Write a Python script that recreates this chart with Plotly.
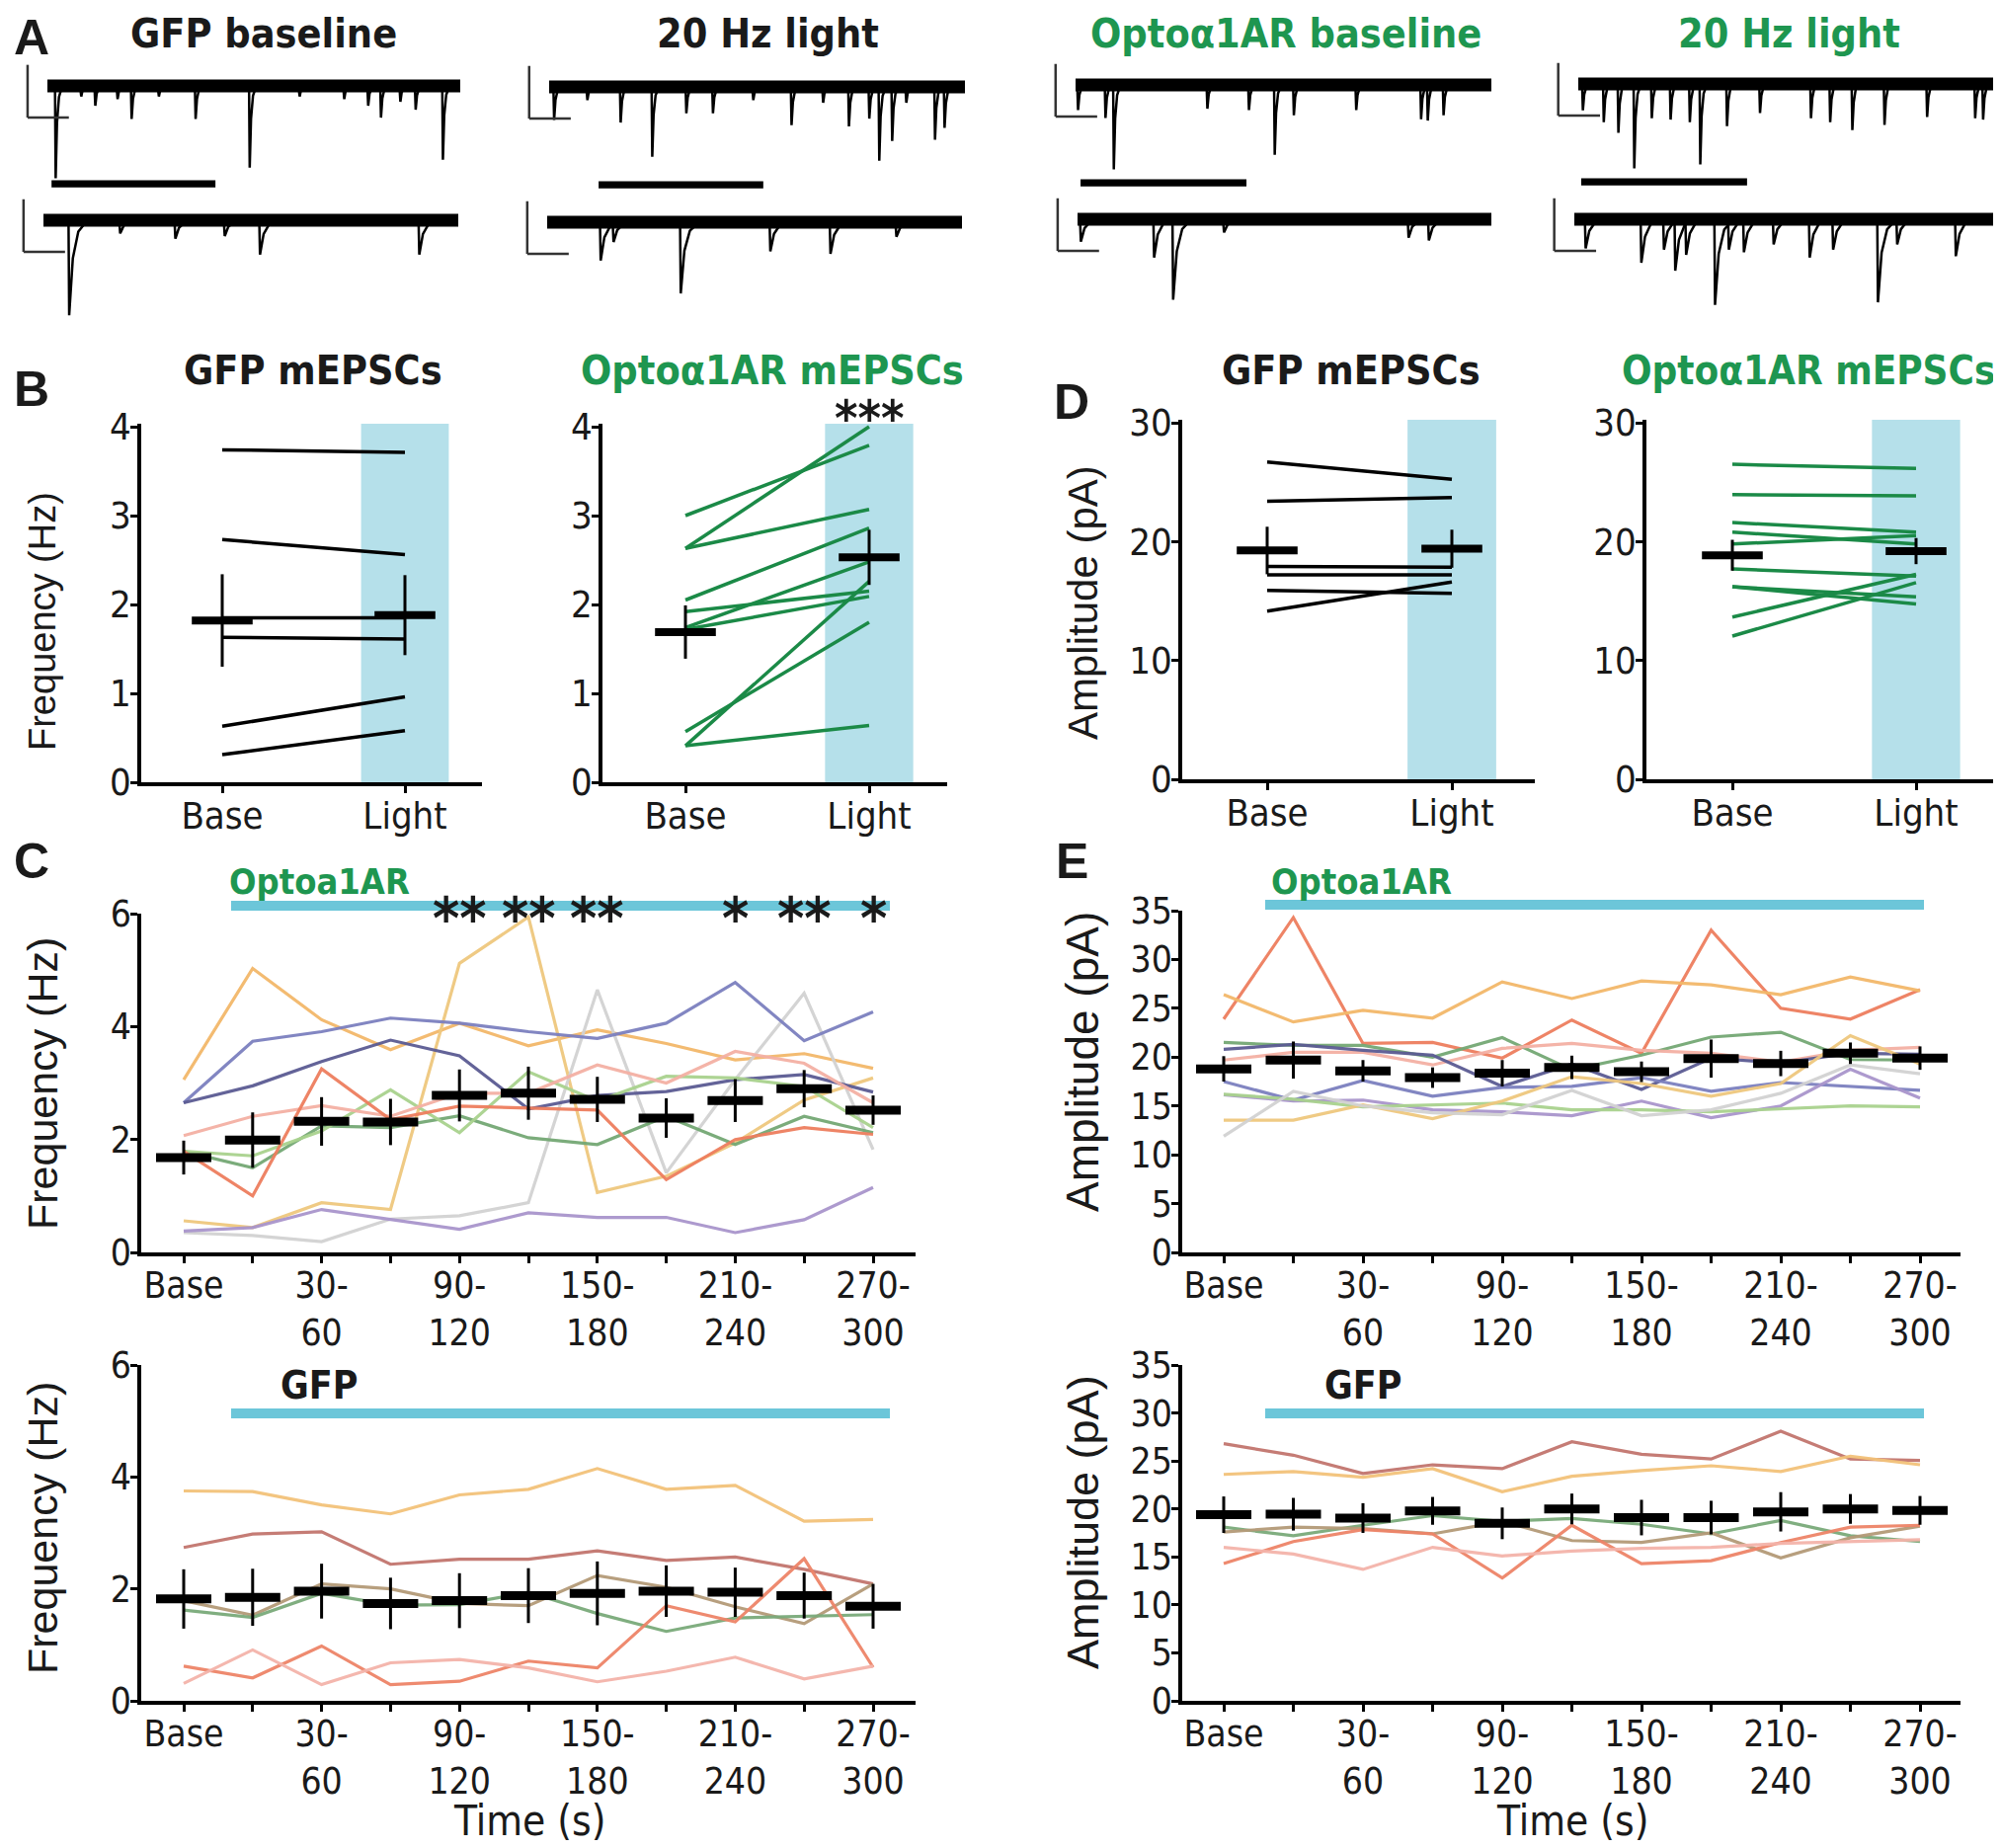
import plotly.graph_objects as go

# ======================= DATA =======================
# Panel A: mEPSC events read from the example sweeps (time in ms within a 1 s sweep, amplitude in pA)
A_GFP_BASE_TOP_T = [20, 82, 116, 170, 204, 270, 359, 490, 611, 719, 777, 808, 855, 892, 958]
A_GFP_BASE_TOP_A = [35, 4, 7.5, 5, 12.5, 4, 12.5, 31, 4, 5, 7.5, 12, 6, 9, 28]
A_GFP_BASE_BOT_T = [62, 185, 318, 437, 522, 906]
A_GFP_BASE_BOT_A = [36, 5, 7, 6, 13, 13]
A_GFP_LIGHT_TOP_T = [12, 92, 172, 248, 330, 394, 491, 583, 659, 721, 770, 794, 825, 859, 928, 951]
A_GFP_LIGHT_TOP_A = [12.5, 5, 13.5, 26.5, 10, 10, 5, 14.5, 6, 15, 12, 28, 20.5, 6, 20, 15.5]
A_GFP_LIGHT_BOT_T = [129, 160, 322, 538, 683, 842]
A_GFP_LIGHT_BOT_A = [14.5, 7.5, 27, 11, 12, 5.5]
A_OPTO_BASE_TOP_T = [6, 72, 92, 317, 417, 479, 525, 675, 831, 847, 885]
A_OPTO_BASE_TOP_A = [9.5, 12.5, 32, 9, 9.5, 26.5, 11.5, 9.5, 13, 13.5, 11.5]
A_OPTO_BASE_BOT_T = [8, 185, 231, 354, 800, 849]
A_OPTO_BASE_BOT_A = [8.5, 14.5, 30.5, 5, 7, 8]
A_OPTO_LIGHT_TOP_T = [11, 61, 96, 134, 176, 221, 267, 292, 356, 435, 557, 603, 656, 733, 835, 950, 969]
A_OPTO_LIGHT_TOP_A = [10, 14.5, 18.5, 32, 13, 13.5, 14.5, 30.5, 16, 11, 13, 14.5, 17.5, 15.5, 12.5, 13, 13.5]
A_OPTO_LIGHT_BOT_T = [27, 160, 214, 241, 267, 336, 369, 405, 476, 562, 618, 725, 771, 911]
A_OPTO_LIGHT_BOT_A = [11, 16.5, 11.5, 19.5, 13.5, 32.5, 11.5, 12.5, 9.5, 14.5, 11.5, 31.5, 9.5, 14]
A_SCALE_PA = 20
A_SCALE_MS = 100

# Panels B / D: per-cell values (Base, Light)
CONDITIONS = ["Base", "Light"]
B_GFP_BASE = [3.74, 2.73, 1.85, 1.63, 0.63, 0.31]
B_GFP_LIGHT = [3.71, 2.56, 1.85, 1.61, 0.96, 0.58]
B_GFP_MEAN = [1.82, 1.88]
B_GFP_SEM = [0.52, 0.45]
B_OPTO_BASE = [3.00, 2.63, 2.63, 2.05, 1.92, 1.74, 1.72, 0.57, 0.41, 0.41]
B_OPTO_LIGHT = [3.79, 4.00, 3.07, 2.86, 2.15, 2.48, 2.09, 1.80, 2.26, 0.64]
B_OPTO_MEAN = [1.69, 2.53]
B_OPTO_SEM = [0.30, 0.31]
D_GFP_BASE = [26.7, 23.4, 17.9, 17.2, 15.9, 14.15]
D_GFP_LIGHT = [25.25, 23.7, 17.85, 17.2, 15.65, 16.6]
D_GFP_MEAN = [19.25, 19.4]
D_GFP_SEM = [2.0, 1.6]
D_OPTO_BASE = [26.5, 23.95, 21.6, 20.8, 19.8, 17.7, 16.2, 16.2, 13.65, 12.05]
D_OPTO_LIGHT = [26.15, 23.85, 20.8, 19.8, 20.5, 17.1, 15.35, 14.75, 17.25, 16.55]
D_OPTO_MEAN = [18.85, 19.2]
D_OPTO_SEM = [1.3, 1.1]

# Panels C / E: 30 s bins
BINS = ["Base", "0-30", "30-60", "60-90", "90-120", "120-150", "150-180",
        "180-210", "210-240", "240-270", "270-300"]

C_OPTO_CELLS = [
    [3.06, 5.03, 4.12, 3.59, 4.06, 3.66, 3.94, 3.70, 3.41, 3.52, 3.26],
    [0.56, 0.44, 0.88, 0.76, 5.12, 5.94, 1.06, 1.35, 1.94, 2.70, 3.09],
    [0.35, 0.30, 0.19, 0.59, 0.65, 0.88, 4.65, 1.41, 3.06, 4.59, 1.82],
    [0.38, 0.44, 0.76, 0.59, 0.41, 0.70, 0.62, 0.62, 0.35, 0.58, 1.15],
    [2.65, 3.74, 3.91, 4.15, 4.06, 3.91, 3.79, 4.06, 4.78, 3.75, 4.26],
    [2.65, 2.95, 3.38, 3.76, 3.48, 2.54, 2.78, 2.85, 3.06, 3.15, 2.84],
    [1.79, 1.50, 2.24, 2.21, 2.42, 2.03, 1.91, 2.41, 1.91, 2.41, 2.12],
    [1.79, 1.71, 2.15, 2.88, 2.12, 3.20, 2.68, 3.12, 3.09, 2.94, 2.21],
    [2.07, 2.41, 2.60, 2.41, 2.82, 2.82, 3.32, 3.00, 3.56, 3.35, 2.65],
    [1.79, 1.00, 3.25, 2.35, 2.59, 2.56, 2.52, 1.29, 2.00, 2.21, 2.09],
]
C_OPTO_MEAN = [1.68, 1.99, 2.32, 2.31, 2.78, 2.82, 2.71, 2.38, 2.69, 2.90, 2.52]
C_OPTO_SEM = [0.30, 0.49, 0.43, 0.41, 0.46, 0.47, 0.40, 0.35, 0.38, 0.33, 0.26]
C_OPTO_STARS = ["", "", "", "", "**", "**", "**", "", "*", "**", "*"]

C_GFP_CELLS = [
    [3.75, 3.74, 3.50, 3.34, 3.68, 3.78, 4.15, 3.78, 3.85, 3.21, 3.24],
    [2.74, 2.98, 3.02, 2.44, 2.53, 2.53, 2.68, 2.51, 2.57, 2.35, 2.09],
    [1.79, 1.53, 2.09, 2.00, 1.74, 1.70, 2.24, 2.03, 1.68, 1.38, 2.09],
    [1.62, 1.49, 1.92, 1.71, 1.72, 1.94, 1.56, 1.24, 1.48, 1.51, 1.54],
    [0.62, 0.41, 0.98, 0.29, 0.35, 0.71, 0.59, 1.70, 1.41, 2.54, 0.60],
    [0.31, 0.91, 0.29, 0.68, 0.74, 0.59, 0.34, 0.53, 0.78, 0.39, 0.62],
]
C_GFP_MEAN = [1.82, 1.85, 1.96, 1.74, 1.79, 1.88, 1.92, 1.96, 1.94, 1.88, 1.69]
C_GFP_SEM = [0.53, 0.51, 0.49, 0.46, 0.49, 0.49, 0.57, 0.46, 0.44, 0.41, 0.40]

E_OPTO_CELLS = [
    [23.9, 34.3, 21.4, 21.5, 19.9, 23.8, 20.4, 33.0, 25.0, 23.9, 26.9],
    [26.4, 23.6, 24.8, 24.0, 27.7, 26.0, 27.8, 27.4, 26.4, 28.2, 26.8],
    [21.5, 21.2, 21.2, 20.0, 22.0, 18.7, 20.2, 22.05, 22.55, 19.75, 19.7],
    [19.7, 20.5, 20.5, 19.2, 20.9, 21.4, 20.7, 20.4, 19.5, 20.7, 21.0],
    [20.8, 21.3, 20.7, 20.2, 17.0, 19.3, 16.7, 19.9, 19.4, 20.4, 20.3],
    [17.5, 15.6, 17.6, 16.0, 16.9, 17.0, 17.9, 16.5, 17.4, 17.0, 16.6],
    [16.15, 15.5, 15.6, 14.6, 14.4, 14.0, 15.5, 13.8, 15.0, 18.75, 15.8],
    [16.2, 15.7, 14.9, 15.1, 15.3, 14.6, 14.6, 14.4, 14.7, 15.0, 14.9],
    [13.55, 13.55, 15.1, 13.7, 15.5, 18.0, 17.3, 16.0, 17.3, 22.2, 19.3],
    [11.9, 16.5, 15.0, 14.3, 14.1, 16.6, 14.0, 14.6, 16.3, 19.2, 18.3],
]
E_OPTO_MEAN = [18.8, 19.7, 18.6, 17.9, 18.35, 18.95, 18.5, 19.85, 19.35, 20.4, 19.9]
E_OPTO_SEM = [1.3, 1.9, 1.1, 1.05, 1.35, 1.2, 1.05, 1.95, 1.3, 1.1, 1.2]

E_GFP_CELLS = [
    [26.8, 25.6, 23.7, 24.6, 24.2, 27.0, 25.7, 25.2, 28.1, 25.2, 25.05],
    [23.6, 23.9, 23.3, 24.2, 21.8, 23.4, 24.0, 24.5, 23.9, 25.5, 24.6],
    [18.1, 17.2, 18.3, 19.3, 18.7, 19.0, 18.4, 17.4, 18.8, 17.2, 16.6],
    [17.6, 18.1, 17.95, 17.4, 18.7, 16.7, 16.5, 17.5, 14.9, 17.0, 18.2],
    [14.3, 16.6, 17.85, 17.4, 12.8, 18.3, 14.3, 14.6, 16.5, 18.1, 18.3],
    [16.0, 15.3, 13.7, 16.0, 15.1, 15.6, 15.9, 16.0, 16.4, 16.6, 16.8],
]
E_GFP_MEAN = [19.4, 19.45, 19.05, 19.8, 18.5, 20.0, 19.1, 19.1, 19.7, 20.0, 19.85]
E_GFP_SEM = [1.9, 1.7, 1.55, 1.45, 1.65, 1.6, 1.85, 1.75, 2.05, 1.55, 1.5]

# ======================= STYLE =======================
W, H = 2026, 1871          # page size
OFF = 8                    # default page margin around the plot div
FW, FH = W - OFF, H - OFF  # figure size
NARROW = "DejaVu Sans Condensed, Liberation Sans Narrow, Arial Narrow, sans-serif"
REG = "Liberation Sans, Arial, sans-serif"
GREEN_TXT = "#1e9650"
GREEN_LINE = "#1b8a47"
SHADE = "#b5e0ea"
CYAN = "#6cc6d9"
TXT = "#1a1a1a"
TICK_SIZE = 38
TITLE_SIZE = 41

OPTO_COLORS = ["#f3b86a", "#efc87e", "#d2d2d2", "#a995cc", "#7c80bf",
               "#5b5b93", "#74a874", "#a9d28e", "#f4b0a4", "#ee7e5e"]
OPTO_AMP_COLORS = ["#ee7e5e", "#f3b86a", "#74a874", "#f4b0a4", "#5b5b93",
                   "#7c80bf", "#a995cc", "#a9d28e", "#efc87e", "#d2d2d2"]
GFP_COLORS = ["#f3c27a", "#c2756e", "#b49a78", "#7aaa7a", "#ee8468", "#f4b4aa"]
GFP_AMP_COLORS = ["#c2756e", "#f3c27a", "#7aaa7a", "#b49a78", "#ee8468", "#f4b4aa"]

fig = go.Figure()
axes = {}
shapes = []
annos = []
count = [0]


def fx(p):
    return (p - OFF) / FW


def fy(p):
    return 1 - (p - OFF) / FH


def new_axes(xl, xr, yt, yb, xrange, yrange):
    count[0] += 1
    n = count[0]
    s = "" if n == 1 else str(n)
    axes["xaxis" + s] = dict(domain=[max(0, fx(xl)), min(1, fx(xr))], range=xrange, anchor="y" + s,
                             visible=False, fixedrange=True, automargin=False)
    axes["yaxis" + s] = dict(domain=[max(0, fy(yb)), min(1, fy(yt))], range=yrange, anchor="x" + s,
                             visible=False, fixedrange=True, automargin=False)
    return "x" + s, "y" + s, "xaxis" + s, "yaxis" + s


def style_axes(xk, yk, xvals, xtext, yvals, size=TICK_SIZE):
    common = dict(visible=True, showline=True, linecolor="black", linewidth=3.5,
                  ticks="outside", ticklen=7, tickwidth=3, tickcolor="black",
                  showgrid=False, zeroline=False,
                  tickfont=dict(family=NARROW, size=size, color=TXT))
    axes[xk].update(common, tickmode="array", tickvals=xvals, ticktext=xtext,
                    ticklabelstandoff=-9)
    axes[yk].update(common, tickmode="array", tickvals=yvals,
                    ticktext=[str(v) for v in yvals], ticklabelstandoff=-8)


def text(x, y, s, size, color=TXT, family=NARROW, bold=False, angle=0, xanchor="center",
         xref="paper", yref="paper"):
    annos.append(dict(x=x if xref != "paper" else fx(x), y=y if yref != "paper" else fy(y),
                      xref=xref, yref=yref, text=("<b>%s</b>" % s) if bold else s,
                      showarrow=False, textangle=angle, xanchor=xanchor, yanchor="middle",
                      font=dict(family=family, size=size, color=color)))


# ======================= PANEL A =======================
PPA = 2.67  # px per pA


def add_sweep(x0, x1, base_px, ts, amps, decay, bar=None):
    ppm = (x1 - x0) / 1000.0
    xr, yr, xk, yk = new_axes(x0 - 60 * ppm, x1 + 2, base_px - 45, base_px + 110,
                              [-60, 1000 + 2 / ppm], [-110 / PPA, 45 / PPA])
    fig.add_trace(go.Scatter(x=[0, 1000], y=[0, 0], mode="lines",
                             line=dict(color="black", width=13),
                             xaxis=xr, yaxis=yr, hoverinfo="skip", showlegend=False))
    ex, ey = [], []
    for t, a in zip(ts, amps):
        ex += [t - 1.5, t, t + 0.4 * decay, t + decay, t + 2 * decay, None]
        ey += [-2, -a, -0.4 * a, -0.12 * a, 0, None]
    fig.add_trace(go.Scatter(x=ex, y=ey, mode="lines", line=dict(color="black", width=2.5),
                             xaxis=xr, yaxis=yr, hoverinfo="skip", showlegend=False))
    lx = -48
    shapes.append(dict(type="line", xref=xr, yref=yr, x0=lx, x1=lx, y0=-12, y1=-12 + A_SCALE_PA,
                       line=dict(color="#333", width=2.5)))
    shapes.append(dict(type="line", xref=xr, yref=yr, x0=lx, x1=lx + A_SCALE_MS, y0=-12, y1=-12,
                       line=dict(color="#333", width=2.5)))
    if bar:
        shapes.append(dict(type="rect", xref=xr, yref=yr, x0=bar[0], x1=bar[1], y0=-38.5, y1=-35.8,
                           fillcolor="black", line=dict(width=0)))


add_sweep(48, 466, 87, A_GFP_BASE_TOP_T, A_GFP_BASE_TOP_A, 8, bar=(10, 407))
add_sweep(44, 464, 223, A_GFP_BASE_BOT_T, A_GFP_BASE_BOT_A, 22)
add_sweep(556, 977, 88, A_GFP_LIGHT_TOP_T, A_GFP_LIGHT_TOP_A, 8, bar=(119, 515))
add_sweep(554, 974, 225, A_GFP_LIGHT_BOT_T, A_GFP_LIGHT_BOT_A, 22)
add_sweep(1089, 1510, 86, A_OPTO_BASE_TOP_T, A_OPTO_BASE_TOP_A, 8, bar=(12, 411))
add_sweep(1091, 1510, 222, A_OPTO_BASE_BOT_T, A_OPTO_BASE_BOT_A, 22)
add_sweep(1598, 2021, 85, A_OPTO_LIGHT_TOP_T, A_OPTO_LIGHT_TOP_A, 8, bar=(7, 404))
add_sweep(1594, 2018, 222, A_OPTO_LIGHT_BOT_T, A_OPTO_LIGHT_BOT_A, 22)

text(32, 38, "A", 50, family=REG, bold=True)
text(267, 34, "GFP baseline", TITLE_SIZE, bold=True)
text(777, 34, "20 Hz light", TITLE_SIZE, bold=True)
text(1302, 34, "Optoα1AR baseline", TITLE_SIZE, color=GREEN_TXT, bold=True)
text(1811, 34, "20 Hz light", TITLE_SIZE, color=GREEN_TXT, bold=True)


# ======================= PANELS B / D =======================
def pair_panel(xl, xr, y_top, y_bot, base_px, light_px, ymax, yvals, base, light, mean, sem,
               color, lw=3.5):
    ppu = light_px - base_px
    rng_x = [-(base_px - xl) / ppu, 1 + (xr - light_px) / ppu]
    ytop_val = ymax * 1.008
    xa, ya, xk, yk = new_axes(xl, xr, y_bot - (y_bot - y_top) * 1.008, y_bot, rng_x, [0, ytop_val])
    style_axes(xk, yk, [0, 1], CONDITIONS, yvals)
    shapes.append(dict(type="rect", xref=xa, yref=ya, x0=0.76, x1=1.24, y0=0, y1=ytop_val,
                       fillcolor=SHADE, line=dict(width=0), layer="below"))
    for b, l in zip(base, light):
        fig.add_trace(go.Scatter(x=[0, 1], y=[b, l], mode="lines", line=dict(color=color, width=lw),
                                 xaxis=xa, yaxis=ya, hoverinfo="skip", showlegend=False))
    fig.add_trace(go.Scatter(x=[0, 1], y=mean, mode="markers",
                             marker=dict(symbol="line-ew", size=44, color="black",
                                         line=dict(width=8, color="black")),
                             error_y=dict(type="data", array=sem, thickness=3, width=0, color="black"),
                             xaxis=xa, yaxis=ya, hoverinfo="skip", showlegend=False))
    return xa, ya


pair_panel(143, 488, 432, 792, 225, 410, 4, [0, 1, 2, 3, 4],
           B_GFP_BASE, B_GFP_LIGHT, B_GFP_MEAN, B_GFP_SEM, "black")
pair_panel(610, 959, 432, 792, 694, 880, 4, [0, 1, 2, 3, 4],
           B_OPTO_BASE, B_OPTO_LIGHT, B_OPTO_MEAN, B_OPTO_SEM, GREEN_LINE)
pair_panel(1197, 1554, 428, 789, 1283, 1470, 30, [0, 10, 20, 30],
           D_GFP_BASE, D_GFP_LIGHT, D_GFP_MEAN, D_GFP_SEM, "black")
pair_panel(1667, 2026, 428, 789, 1754, 1940, 30, [0, 10, 20, 30],
           D_OPTO_BASE, D_OPTO_LIGHT, D_OPTO_MEAN, D_OPTO_SEM, GREEN_LINE)

text(32, 394, "B", 50, family=REG, bold=True)
text(1085, 407, "D", 50, family=REG, bold=True)
text(317, 375, "GFP mEPSCs", TITLE_SIZE, bold=True)
text(782, 375, "Optoα1AR mEPSCs", TITLE_SIZE, color=GREEN_TXT, bold=True)
text(1368, 375, "GFP mEPSCs", TITLE_SIZE, bold=True)
text(2022, 375, "Optoα1AR mEPSCs", 40, color=GREEN_TXT, bold=True, xanchor="right")
text(880, 424, "***", 50, bold=True)
text(43, 629, "Frequency (Hz)", 38, family=REG, angle=-90)
text(1096, 610, "Amplitude (pA)", 42, family=REG, angle=-90)


# ======================= PANELS C / E =======================
def time_panel(xl, xr, y_top, y_bot, first_px, last_px, ymax, yvals, cells, colors, mean, sem,
               bar_px, bar_y):
    step = (last_px - first_px) / 10.0
    rng_x = [-(first_px - xl) / step, 10 + (xr - last_px) / step]
    xa, ya, xk, yk = new_axes(xl, xr, y_top, y_bot, rng_x, [0, ymax])
    idx = list(range(len(BINS)))
    labels = []
    for i, b in enumerate(BINS):
        if i == 0:
            labels.append(b)
        elif i % 2 == 0:
            lo, hi = b.split("-")
            labels.append(lo + "-<br>" + hi)
        else:
            labels.append("")
    style_axes(xk, yk, idx, labels, yvals, size=37)
    for vals, c in zip(cells, colors):
        fig.add_trace(go.Scatter(x=idx, y=vals, mode="lines", line=dict(color=c, width=3.2),
                                 opacity=0.95, xaxis=xa, yaxis=ya, hoverinfo="skip",
                                 showlegend=False))
    fig.add_trace(go.Scatter(x=idx, y=mean, mode="markers",
                             marker=dict(symbol="line-ew", size=40, color="black",
                                         line=dict(width=9, color="black")),
                             error_y=dict(type="data", array=sem, thickness=3, width=0, color="black"),
                             xaxis=xa, yaxis=ya, hoverinfo="skip", showlegend=False))
    shapes.append(dict(type="rect", xref="paper", yref="paper", x0=fx(bar_px[0]), x1=fx(bar_px[1]),
                       y0=fy(bar_y + 5), y1=fy(bar_y - 5), fillcolor=CYAN, line=dict(width=0)))
    return xa, ya


cx, cy = time_panel(143, 927, 925, 1268, 186, 884, 6, [0, 2, 4, 6], C_OPTO_CELLS, OPTO_COLORS,
                    C_OPTO_MEAN, C_OPTO_SEM, (234, 901), 917)
time_panel(143, 927, 1382, 1722, 186, 884, 6, [0, 2, 4, 6], C_GFP_CELLS, GFP_COLORS,
           C_GFP_MEAN, C_GFP_SEM, (234, 901), 1431)
time_panel(1197, 1985, 922, 1268, 1239, 1944, 35, [0, 5, 10, 15, 20, 25, 30, 35], E_OPTO_CELLS,
           OPTO_AMP_COLORS, E_OPTO_MEAN, E_OPTO_SEM, (1281, 1948), 916)
time_panel(1197, 1985, 1382, 1722, 1239, 1944, 35, [0, 5, 10, 15, 20, 25, 30, 35], E_GFP_CELLS,
           GFP_AMP_COLORS, E_GFP_MEAN, E_GFP_SEM, (1281, 1948), 1431)

for i, s in enumerate(C_OPTO_STARS):
    if s:
        annos.append(dict(x=i, y=fy(930), xref=cx, yref="paper", text="<b>%s</b>" % s,
                          showarrow=False, xanchor="center", yanchor="middle",
                          font=dict(family=NARROW, size=58, color=TXT)))

text(32, 872, "C", 50, family=REG, bold=True)
text(1085, 872, "E", 50, family=REG, bold=True)
text(323, 892, "Optoa1AR", 36, color=GREEN_TXT, bold=True)
text(1378, 892, "Optoa1AR", 36, color=GREEN_TXT, bold=True)
text(323, 1402, "GFP", 39, bold=True)
text(1380, 1402, "GFP", 39, bold=True)
text(43, 1097, "Frequency (Hz)", 43, family=REG, angle=-90)
text(43, 1547, "Frequency (Hz)", 43, family=REG, angle=-90)
text(1096, 1075, "Amplitude (pA)", 46, family=REG, angle=-90)
text(1096, 1541, "Amplitude (pA)", 45, family=REG, angle=-90)
text(536, 1843, "Time (s)", 42)
text(1592, 1843, "Time (s)", 42)

fig.update_layout(template="none", width=FW, height=FH, margin=dict(l=0, r=0, t=0, b=0, pad=0),
                  autosize=False, paper_bgcolor="white", plot_bgcolor="rgba(0,0,0,0)",
                  showlegend=False, hovermode=False, shapes=shapes, annotations=annos, **axes)
fig.write_html("out.html")
